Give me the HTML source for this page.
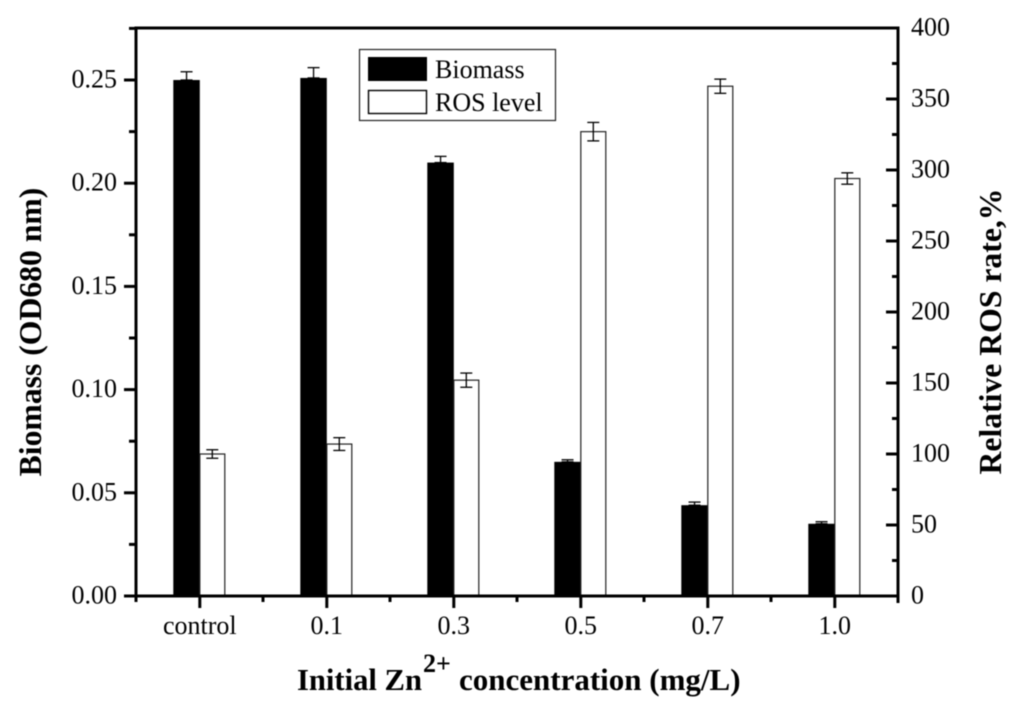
<!DOCTYPE html>
<html>
<head>
<meta charset="utf-8">
<title>Biomass and ROS level</title>
<style>
html,body{margin:0;padding:0;background:#fff;width:1024px;height:715px;overflow:hidden}
svg{display:block;filter:blur(0.45px)}
text{font-family:"Liberation Serif",serif;fill:#000}
.tick{font-size:26px}
.title{font-size:30.6px;font-weight:bold}
.ytitle{font-size:31.7px;font-weight:bold}
</style>
</head>
<body>
<svg id="chart" width="1024" height="715" viewBox="0 0 1024 715" xmlns="http://www.w3.org/2000/svg"></svg>
<script>
const categories = ['control', '0.1', '0.3', '0.5', '0.7', '1.0'];
const biomass = [0.25, 0.251, 0.21, 0.065, 0.044, 0.035];
const biomassErr = [0.004, 0.005, 0.003, 0.001, 0.0015, 0.001];
const ros = [100, 107, 152, 327, 359, 294];
const rosErr = [3, 4.5, 5, 6.5, 5, 4];
const leftTicks = [0, 0.05, 0.10, 0.15, 0.20, 0.25];
const rightTicks = [0, 50, 100, 150, 200, 250, 300, 350, 400];

const svg = document.getElementById('chart');
const NS = 'http://www.w3.org/2000/svg';
const L = 136, R = 898, T = 28, B = 596;
const leftMax = 0.2752, rightMax = 400;
const yL = v => B - (v / leftMax) * (B - T);
const yR = v => B - (v / rightMax) * (B - T);
const band = (R - L) / categories.length;
const xC = i => L + 0.3 + (i + 0.5) * band;
const barW = 26.5;

function add(tag, attrs, parent) {
  const el = document.createElementNS(NS, tag);
  for (const k in attrs) el.setAttribute(k, attrs[k]);
  (parent || svg).appendChild(el);
  return el;
}
function line(x1, y1, x2, y2, w, parent) {
  return add('line', {x1, y1, x2, y2, stroke: '#000', 'stroke-width': w}, parent);
}
function errorBar(x, top, bot, parent) {
  line(x, top, x, bot, 1.3, parent);
  line(x - 6, top, x + 6, top, 1.3, parent);
  line(x - 6, bot, x + 6, bot, 1.3, parent);
}

/* bars */
categories.forEach((c, i) => {
  const gB = add('g', {});
  
  
  errorBar(xC(i) - barW / 2, yL(biomass[i] + biomassErr[i]), yL(biomass[i]), gB);
  add('rect', {x: xC(i) - barW, y: yL(biomass[i]), width: barW, height: B - yL(biomass[i]), fill: '#000'}, gB);

  const gR = add('g', {});
  
  
  add('rect', {x: xC(i), y: yR(ros[i]), width: barW - 1.5, height: B - yR(ros[i]), fill: '#fff', stroke: '#222', 'stroke-width': 1.2}, gR);
  errorBar(xC(i) + (barW - 1.5) / 2, yR(ros[i] + rosErr[i]), yR(ros[i] - rosErr[i]), gR);
});

/* axes frame */
const frame = add('rect', {x: L, y: T, width: R - L, height: B - T, fill: 'none', stroke: '#000', 'stroke-width': 3});



/* left axis */
const gLeft = add('g', {});


leftTicks.forEach((v, i) => {
  line(L - 12, yL(v), L, yL(v), 3, gLeft);
  const m = i < leftTicks.length - 1 ? (v + leftTicks[i + 1]) / 2 : v + (v - leftTicks[i - 1]) / 2;
  line(L - 7, yL(m), L, yL(m), 3, gLeft);
  const t = add('text', {x: 117, y: yL(v) + 7.5, 'text-anchor': 'end', class: 'tick'}, gLeft);
  t.textContent = v.toFixed(2);
});

/* right axis */
const gRight = add('g', {});


rightTicks.forEach((v, i) => {
  line(R - 12, yR(v), R, yR(v), 3, gRight);
  if (i < rightTicks.length - 1) {
    const m = (v + rightTicks[i + 1]) / 2;
    line(R - 6, yR(m), R, yR(m), 3, gRight);
  }
  const t = add('text', {x: 911, y: yR(v) + 7.5, class: 'tick'}, gRight);
  t.textContent = String(v);
});

/* x axis */
const gX = add('g', {});


categories.forEach((c, i) => {
  line(xC(i), B, xC(i), B + 12, 3, gX);
  line(L + i * band, B, L + i * band, B + 6, 3, gX);
  const t = add('text', {x: xC(i), y: 634, 'text-anchor': 'middle', class: 'tick'}, gX);
  t.textContent = c;
});
line(R, B, R, B + 7, 3, gX);
</script>

<script>
/* static annotations */
(function () {
  const s = document.getElementById('chart');
  const markup = `
  <g>
    <rect x="359.5" y="49.5" width="196" height="71" fill="#fff" stroke="#222" stroke-width="1.2"/>
    <rect x="368.5" y="57.5" width="58" height="23" fill="#000" stroke="#000"/>
    <text x="435" y="78" class="tick">Biomass</text>
    <rect x="368.5" y="90.5" width="58" height="23" fill="#fff" stroke="#000" stroke-width="1.4"/>
    <text x="435" y="111" class="tick">ROS level</text>
  </g>
  <text x="297" y="690" class="title">Initial Zn</text>
  <text x="423" y="672" class="title" style="font-size:26px">2+</text>
  <text x="459" y="690" class="title" style="font-size:31px">concentration (mg/L)</text>
  <text transform="translate(41,332) rotate(-90)" text-anchor="middle" class="ytitle">Biomass (OD680 nm)</text>
  <text transform="translate(1001,331.5) rotate(-90)" text-anchor="middle" class="ytitle">Relative ROS rate,%</text>`;
  s.insertAdjacentHTML('beforeend', markup);
})();
</script>
</body>
</html>
